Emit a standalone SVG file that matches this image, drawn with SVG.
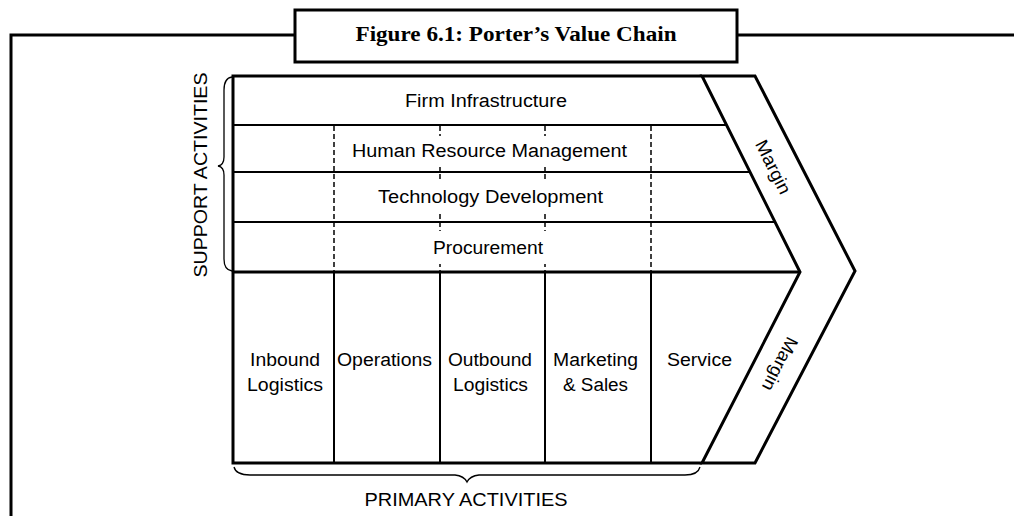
<svg xmlns="http://www.w3.org/2000/svg" width="1014" height="516" viewBox="0 0 1014 516">
<style>
.bg{fill:#fff}
.k3{stroke:#000;stroke-width:3;fill:none}
.k2{stroke:#000;stroke-width:2;fill:none}
.dash{stroke:#000;stroke-width:1.5;stroke-dasharray:5 3;fill:none}
.brace{stroke:#000;stroke-width:1.3;fill:none}
.t{font-family:"Liberation Sans",Arial,sans-serif;font-size:18px;fill:#000;text-anchor:middle}
.title{font-family:"Liberation Serif","Times New Roman",serif;font-size:20px;font-weight:bold;fill:#000;text-anchor:middle}
.pad{fill:#fff;stroke:none}
</style>
<rect class="bg" x="0" y="0" width="1014" height="516"/>

<g id="frame">
  <polyline class="k3" points="11,516 11,35 295,35"/>
  <line class="k3" x1="737" y1="35" x2="1014" y2="35"/>
</g>

<g id="title">
  <rect x="295" y="10" width="442" height="52" fill="#fff" stroke="#000" stroke-width="3"/>
  <text class="title" x="516" y="41" textLength="321" lengthAdjust="spacingAndGlyphs">Figure 6.1: Porter’s Value Chain</text>
</g>

<g id="connectors">
  <!-- dashed dividers in support activities -->
  <line class="dash" x1="334" y1="126" x2="334" y2="271"/>
  <line class="dash" x1="440" y1="126" x2="440" y2="271"/>
  <line class="dash" x1="545" y1="126" x2="545" y2="271"/>
  <line class="dash" x1="651" y1="126" x2="651" y2="271"/>
  <!-- row lines -->
  <line class="k2" x1="233" y1="125" x2="726.5" y2="125"/>
  <line class="k2" x1="233" y1="172" x2="750" y2="172"/>
  <line class="k2" x1="233" y1="222" x2="775" y2="222"/>
  <!-- primary dividers -->
  <line class="k2" x1="334" y1="272" x2="334" y2="463"/>
  <line class="k2" x1="440" y1="272" x2="440" y2="463"/>
  <line class="k2" x1="545" y1="272" x2="545" y2="463"/>
  <line class="k2" x1="651" y1="272" x2="651" y2="463"/>
  <!-- outline -->
  <line class="k3" x1="233" y1="272" x2="800" y2="272"/>
  <polyline class="k3" points="702,463 233,463 233,76 702,76"/>
</g>

<g id="margin">
  <polygon class="k3" points="702,76 755,76 855,271 755,463 702,463 800,272" stroke-linejoin="miter"/>
  <text class="t" transform="translate(773,167) rotate(63.4)" x="0" y="6" textLength="58" lengthAdjust="spacingAndGlyphs">Margin</text>
  <text class="t" transform="translate(780,364) rotate(117)" x="0" y="6" textLength="58" lengthAdjust="spacingAndGlyphs">Margin</text>
</g>

<g id="firm-infrastructure">
  <text class="t" x="486" y="107" textLength="162" lengthAdjust="spacingAndGlyphs">Firm Infrastructure</text>
</g>
<g id="human-resource-management">
  <rect class="pad" x="349" y="136" width="281" height="31"/>
  <text class="t" x="489.5" y="157" textLength="275" lengthAdjust="spacingAndGlyphs">Human Resource Management</text>
</g>
<g id="technology-development">
  <rect class="pad" x="375" y="182" width="231" height="30"/>
  <text class="t" x="490.5" y="203" textLength="225" lengthAdjust="spacingAndGlyphs">Technology Development</text>
</g>
<g id="procurement">
  <rect class="pad" x="430" y="231" width="116" height="33"/>
  <text class="t" x="488" y="254" textLength="110" lengthAdjust="spacingAndGlyphs">Procurement</text>
</g>

<g id="inbound-logistics">
  <text class="t" x="285" y="366" textLength="70" lengthAdjust="spacingAndGlyphs">Inbound</text>
  <text class="t" x="285" y="391" textLength="76" lengthAdjust="spacingAndGlyphs">Logistics</text>
</g>
<g id="operations">
  <text class="t" x="384.5" y="366" textLength="95" lengthAdjust="spacingAndGlyphs">Operations</text>
</g>
<g id="outbound-logistics">
  <text class="t" x="490" y="366" textLength="84" lengthAdjust="spacingAndGlyphs">Outbound</text>
  <text class="t" x="490.5" y="391" textLength="75" lengthAdjust="spacingAndGlyphs">Logistics</text>
</g>
<g id="marketing-sales">
  <text class="t" x="595.5" y="366" textLength="85" lengthAdjust="spacingAndGlyphs">Marketing</text>
  <text class="t" x="595.5" y="391" textLength="65" lengthAdjust="spacingAndGlyphs">&amp; Sales</text>
</g>
<g id="service">
  <text class="t" x="699.5" y="366" textLength="65" lengthAdjust="spacingAndGlyphs">Service</text>
</g>

<g id="support-activities">
  <path class="brace" d="M232,77 Q224,78 224,90 L224,157 Q224,165 218,166 Q224,167 224,175 L224,259 Q224,270 232,271"/>
  <text class="t" transform="translate(200,175) rotate(-90)" x="0" y="6.5" textLength="205" lengthAdjust="spacingAndGlyphs">SUPPORT ACTIVITIES</text>
</g>

<g id="primary-activities">
  <path class="brace" d="M234,467 Q236,475 250,475 L455,475 Q464,476 467,482 Q470,476 479,475 L685,475 Q698,475 700,467"/>
  <text class="t" x="466" y="506" textLength="203" lengthAdjust="spacingAndGlyphs">PRIMARY ACTIVITIES</text>
</g>
</svg>
